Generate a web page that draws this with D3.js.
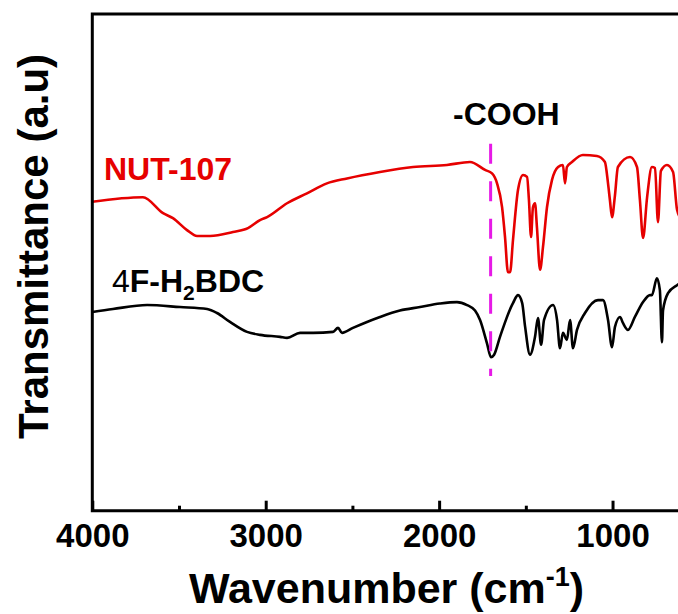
<!DOCTYPE html>
<html>
<head>
<meta charset="utf-8">
<script src="https://cdn.jsdelivr.net/npm/d3@7"></script>
<style>
  html, body { margin: 0; padding: 0; background: #fff; }
  svg { display: block; }
  text { font-family: Arial, "Liberation Sans", sans-serif; font-weight: bold; }
</style>
</head>
<body>
<svg id="chart" width="678" height="614"></svg>
<script>
// FTIR spectra: wavenumber (cm-1) and transmittance (a.u.)
const nutWavenumber = [4000, 3708, 3592, 3535, 3454, 3396, 3321, 3189, 3102, 3033, 2992, 2877, 2762,
  2647, 2531, 2341, 2150, 1955, 1822,
  1735, 1695, 1666, 1637, 1620, 1603, 1591, 1574, 1545, 1516, 1493, 1482, 1470, 1459, 1447, 1436,
  1418, 1401, 1378, 1349, 1314, 1286, 1274, 1263, 1234, 1171, 1090, 1044, 1026, 1015, 1003, 986,
  969, 899, 859, 842, 824, 801, 773, 755, 738, 721, 686, 651, 628, 600];
const nutTransmittance = [62.2, 63.1, 59.9, 58.9, 56.5, 55.3, 55.3, 56.1, 56.9, 58.5, 59.1, 61.9, 63.9,
  65.9, 66.9, 68.2, 69.2, 69.6, 70.2,
  68.6, 67.9, 65.9, 61.1, 55.1, 48.0, 48.0, 54.5, 64.6, 67.6, 67.2, 62.5, 55.1, 61.1, 61.9, 57.1,
  48.5, 53.1, 61.1, 66.6, 69.2, 69.6, 65.9, 69.2, 70.2, 71.6, 71.4, 70.2, 65.9, 62.5, 59.1, 63.5,
  69.2, 71.2, 69.2, 62.5, 54.9, 63.0, 69.2, 69.0, 58.1, 68.4, 69.6, 68.2, 60.6, 58.5];

const ligandWavenumber = [4000, 3881, 3684, 3494, 3338, 3281, 3206, 3108, 3033, 2917, 2877, 2802, 2727,
  2612, 2583, 2560, 2497, 2416, 2341, 2226, 2110, 1996, 1897, 1839, 1793, 1764,
  1724, 1701, 1683, 1649, 1580, 1574, 1545, 1521, 1504, 1476, 1447,
  1430, 1412, 1395, 1343, 1320, 1303, 1286, 1263, 1245, 1228, 1205, 1159, 1084, 1055, 1026, 1003,
  986, 957, 940, 911, 871, 824, 784, 773, 744, 727, 715, 709, 680, 628, 600];
const ligandTransmittance = [40.0, 40.6, 41.4, 41.0, 40.6, 39.8, 38.0, 36.0, 35.4, 35.0, 34.8, 35.8, 35.8,
  36.0, 36.8, 35.8, 36.8, 38.0, 39.0, 40.3, 41.0, 41.7, 42.0, 41.4, 40.3, 38.4,
  33.7, 30.9, 31.4, 35.0, 41.4, 41.8, 43.4, 41.8, 37.0, 31.4, 35.0,
  38.8, 33.4, 38.4, 41.4, 38.4, 32.7, 35.8, 34.4, 38.4, 32.7, 36.4, 39.8, 42.4, 42.4, 38.4, 32.9,
  37.0, 39.0, 37.8, 36.4, 39.0, 42.0, 43.4, 43.4, 46.8, 44.4, 33.9, 40.3, 43.8, 45.4, 46.0];

const majorTicks = [4000, 3000, 2000, 1000];
const minorTicks = [3500, 2500, 1500];
const coohPosition = 1703;

const svg = d3.select("#chart");
const plotLeft = 92.3, plotRight = 681.9, plotTop = 14, plotBottom = 510.7;

const x = d3.scaleLinear().domain([4000, 600]).range([plotLeft, plotRight]);
const y = d3.scaleLinear().domain([0, 100]).range([plotBottom, plotTop]);

svg.append("defs").append("clipPath").attr("id", "plot-clip")
  .append("rect").attr("x", plotLeft).attr("y", plotTop)
  .attr("width", plotRight - plotLeft).attr("height", plotBottom - plotTop);

// Spectra
const line = d3.line().x(d => x(d[0])).y(d => y(d[1])).curve(d3.curveMonotoneX);
const plot = svg.append("g").attr("clip-path", "url(#plot-clip)");

plot.append("path")
  .datum(d3.zip(ligandWavenumber, ligandTransmittance))
  .attr("d", line).attr("fill", "none").attr("stroke", "#000")
  .attr("stroke-width", 2.6).attr("stroke-linejoin", "round");

plot.append("path")
  .datum(d3.zip(nutWavenumber, nutTransmittance))
  .attr("d", line).attr("fill", "none").attr("stroke", "#e60000")
  .attr("stroke-width", 2.6).attr("stroke-linejoin", "round");

// -COOH marker
svg.append("line")
  .attr("x1", x(coohPosition)).attr("x2", x(coohPosition))
  .attr("y1", y(73.9)).attr("y2", y(27.1))
  .attr("stroke", "#e619e6").attr("stroke-width", 3)
  .attr("stroke-dasharray", "20 17.5");

svg.append("text").attr("x", 453).attr("y", 125)
  .attr("font-size", 32).attr("fill", "#000").text("-COOH");

// Series labels
svg.append("text").attr("x", 104).attr("y", 180)
  .attr("font-size", 32).attr("fill", "#e60000").text("NUT-107");

const lig = svg.append("text").attr("x", 112).attr("y", 292)
  .attr("font-size", 32).attr("fill", "#000");
lig.append("tspan").attr("font-weight", "normal").text("4");
lig.append("tspan").text("F-H");
lig.append("tspan").attr("font-size", 21).attr("dy", 8).text("2");
lig.append("tspan").attr("dy", -8).text("BDC");

// Frame
svg.append("path")
  .attr("d", `M${plotRight},${plotTop}H${plotLeft}V${plotBottom}H${plotRight}`)
  .attr("fill", "none").attr("stroke", "#000").attr("stroke-width", 3);

// Bottom axis ticks and labels
const xAxis = d3.axisBottom(x).tickValues(majorTicks).tickSize(-10).tickPadding(13)
  .tickFormat(d3.format("d"));
const gx = svg.append("g").attr("transform", `translate(0,${plotBottom})`).call(xAxis);
gx.select(".domain").remove();
gx.selectAll(".tick line").attr("stroke", "#000").attr("stroke-width", 3);
gx.selectAll(".tick text").attr("font-size", 33).attr("fill", "#000")
  .attr("font-family", "Arial, 'Liberation Sans', sans-serif").attr("font-weight", "bold");

const gm = svg.append("g").attr("transform", `translate(0,${plotBottom})`)
  .call(d3.axisBottom(x).tickValues(minorTicks).tickSize(-5).tickFormat(""));
gm.select(".domain").remove();
gm.selectAll(".tick line").attr("stroke", "#000").attr("stroke-width", 3);

// Axis titles
const xt = svg.append("text").attr("x", 386.5).attr("y", 603)
  .attr("text-anchor", "middle").attr("font-size", 43).attr("fill", "#000");
xt.append("tspan").text("Wavenumber (cm");
xt.append("tspan").attr("font-size", 27).attr("dy", -17).text("-1");
xt.append("tspan").attr("dy", 17).text(")");

svg.append("text")
  .attr("transform", "translate(48,246.5) rotate(-90)")
  .attr("text-anchor", "middle").attr("font-size", 42).attr("fill", "#000")
  .text("Transmittance (a.u)");
</script>
</body>
</html>
